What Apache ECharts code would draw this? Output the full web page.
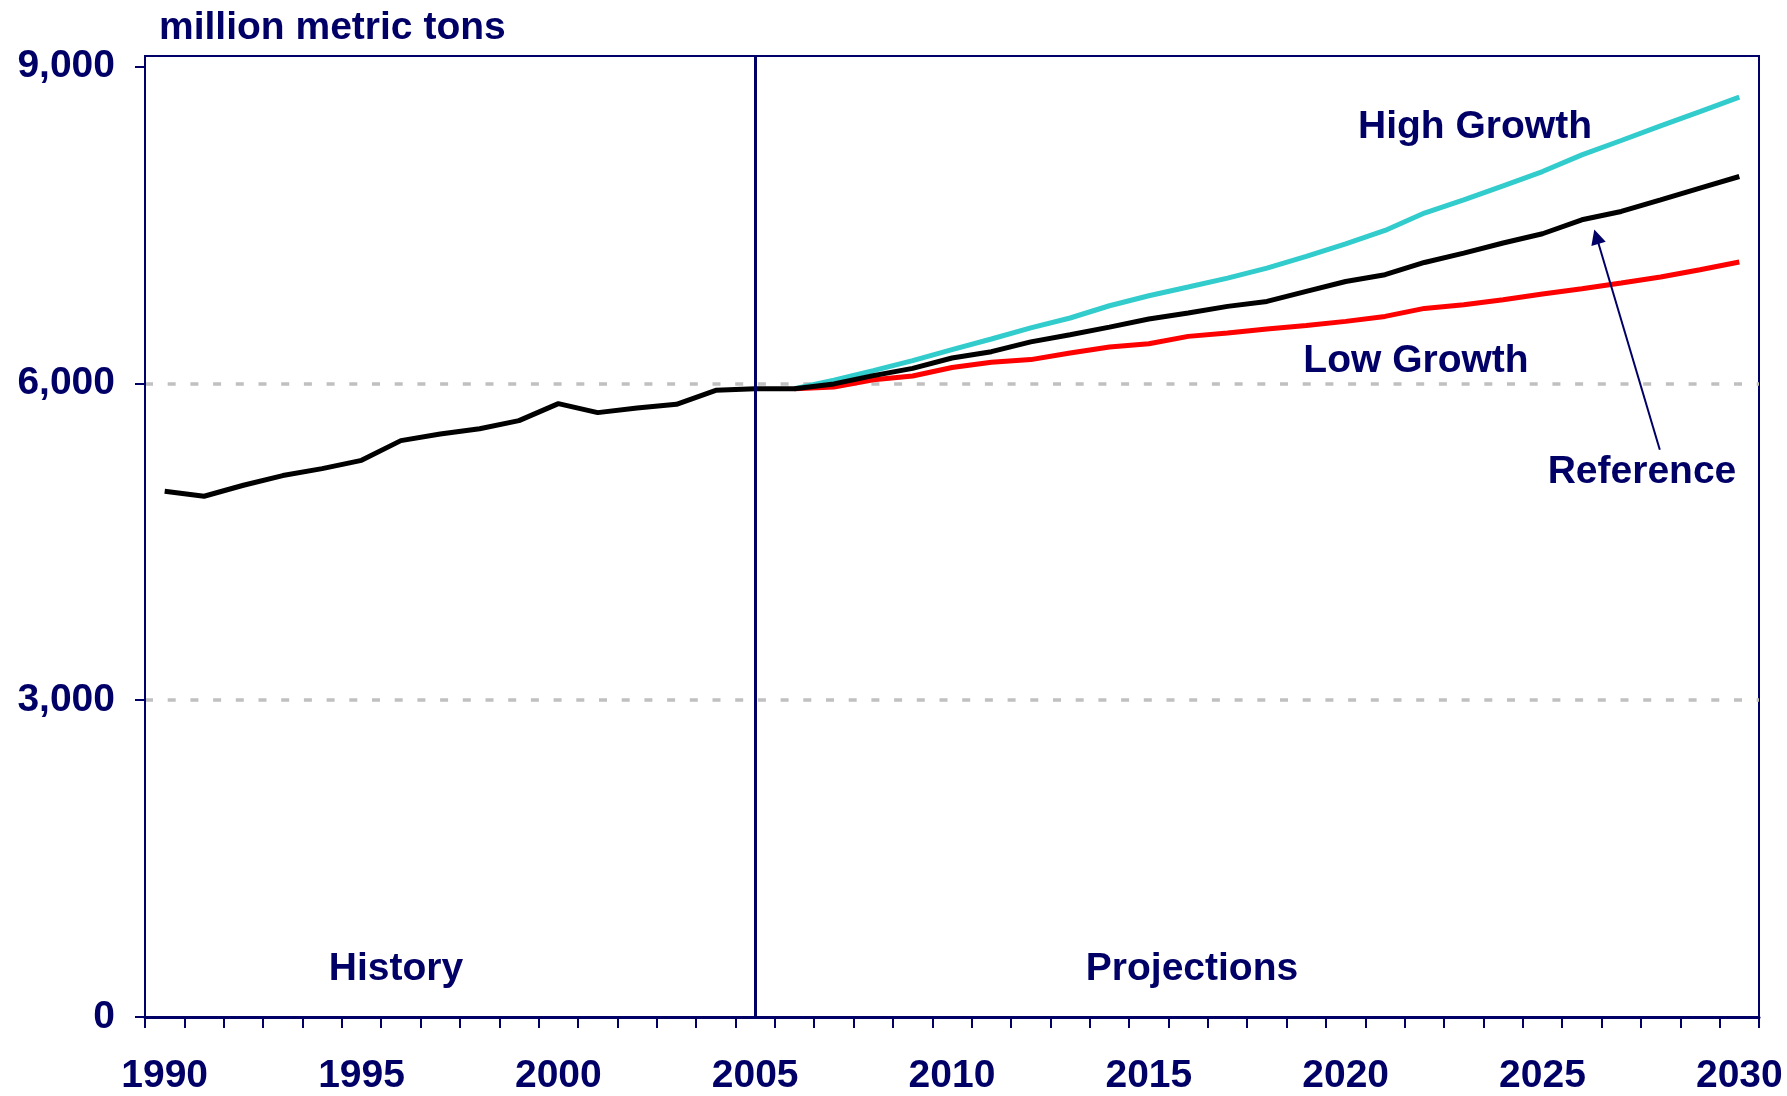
<!DOCTYPE html>
<html>
<head>
<meta charset="utf-8">
<script src="https://cdn.jsdelivr.net/npm/echarts@6/dist/echarts.min.js"></script>
<style>
  html, body { margin: 0; padding: 0; background: #ffffff; }
  #chart { width: 1787px; height: 1096px; }
</style>
</head>
<body>
<div id="chart"></div>
<script>
// categories: one per year
const years = []
for (let y = 1990; y <= 2030; y++) years.push(String(y))

// history 1990-2005
const history = [4978, 4931, 5035, 5127, 5193, 5271, 5458, 5521, 5571, 5647, 5808, 5723, 5767, 5802, 5934, 5950]
// projections 2006-2030
const reference = [5950, 5995, 6073, 6142, 6240, 6300, 6393, 6461, 6533, 6609, 6666, 6729, 6776, 6871, 6965, 7029, 7145, 7234, 7329, 7417, 7549, 7628, 7738, 7849, 7959]
const highGrowth = [5950, 6030, 6120, 6215, 6320, 6420, 6525, 6619, 6735, 6830, 6912, 6997, 7092, 7202, 7322, 7448, 7613, 7738, 7871, 8006, 8164, 8300, 8439, 8574, 8710]
const lowGrowth = [5950, 5965, 6035, 6070, 6150, 6200, 6225, 6288, 6344, 6375, 6445, 6477, 6515, 6549, 6587, 6634, 6710, 6745, 6792, 6846, 6896, 6950, 7007, 7076, 7149]

const yTicks = [0, 3000, 6000, 9000]
const dividerYear = '2005'
// arrow pointing at the Reference line, [year, value]
const arrowFrom = [2027.98, 5372]
const arrowTo = [2026.37, 7390]

const navy = '#000066'
const font = "'Liberation Sans', Arial, sans-serif"

const gap = new Array(history.length).fill(null)
const refData = history.concat(reference)
const highData = gap.concat(highGrowth)
const lowData = gap.concat(lowGrowth)

const chart = echarts.init(document.getElementById('chart'))
const textStyle = { fill: navy, fontSize: 39, fontWeight: 'bold', fontFamily: font, align: 'center', verticalAlign: 'middle' }

chart.setOption({
  animation: false,
  backgroundColor: '#ffffff',
  title: {
    text: 'million metric tons',
    left: 154,
    top: 4,
    textStyle: { color: navy, fontSize: 39, fontWeight: 'bold', fontFamily: font }
  },
  grid: {
    left: 145,
    right: 28,
    top: 56,
    bottom: 78,
    show: true,
    borderColor: navy,
    borderWidth: 2
  },
  xAxis: [
    {
      type: 'category',
      data: years,
      boundaryGap: true,
      axisLine: { lineStyle: { color: navy, width: 3 } },
      axisTick: { show: true, interval: 0, alignWithLabel: false, length: 11, lineStyle: { color: navy, width: 2 } },
      axisLabel: {
        interval: (i) => i % 5 === 0,
        margin: 40,
        color: navy,
        fontSize: 39,
        fontWeight: 'bold',
        fontFamily: font
      },
      splitLine: { show: false }
    },
    {
      type: 'value',
      min: 1989.5,
      max: 2030.5,
      show: false
    }
  ],
  yAxis: {
    type: 'value',
    min: 0,
    max: 9100,
    interval: 3000,
    axisLine: { show: true, lineStyle: { color: navy, width: 2 } },
    axisTick: { show: true, length: 10, customValues: yTicks, lineStyle: { color: navy, width: 2 } },
    axisLabel: {
      customValues: yTicks,
      margin: 30,
      color: navy,
      fontSize: 39,
      fontWeight: 'bold',
      fontFamily: font,
      formatter: (v) => v.toLocaleString('en-US')
    },
    splitLine: {
      show: true,
      showMinLine: false,
      showMaxLine: false,
      lineStyle: { color: '#c0c0c0', width: 3.5, type: [8, 14.7] }
    }
  },
  series: [
    {
      name: 'High Growth',
      type: 'line',
      data: highData,
      symbol: 'none',
      lineStyle: { color: '#33cccc', width: 5 }
    },
    {
      name: 'Low Growth',
      type: 'line',
      data: lowData,
      symbol: 'none',
      lineStyle: { color: '#ff0000', width: 5 }
    },
    {
      name: 'Reference',
      type: 'line',
      data: refData,
      symbol: 'none',
      lineStyle: { color: '#000000', width: 5 },
      markLine: {
        silent: true,
        symbol: 'none',
        label: { show: false },
        lineStyle: { color: navy, width: 3, type: 'solid' },
        data: [{ xAxis: dividerYear }]
      }
    },
    {
      name: 'arrow',
      type: 'line',
      xAxisIndex: 1,
      data: [],
      markLine: {
        silent: true,
        symbol: ['none', 'triangle'],
        symbolSize: 15,
        label: { show: false },
        itemStyle: { color: navy },
        lineStyle: { color: navy, width: 2, type: 'solid' },
        data: [[{ coord: arrowFrom }, { coord: arrowTo }]]
      }
    }
  ],
  graphic: [
    { type: 'text', x: 1475, y: 127, style: Object.assign({ text: 'High Growth' }, textStyle) },
    { type: 'text', x: 1416, y: 361, style: Object.assign({ text: 'Low Growth' }, textStyle) },
    { type: 'text', x: 1642, y: 472, style: Object.assign({ text: 'Reference' }, textStyle) },
    { type: 'text', x: 396, y: 969, style: Object.assign({ text: 'History' }, textStyle) },
    { type: 'text', x: 1192, y: 969, style: Object.assign({ text: 'Projections' }, textStyle) }
  ]
})
</script>
</body>
</html>
